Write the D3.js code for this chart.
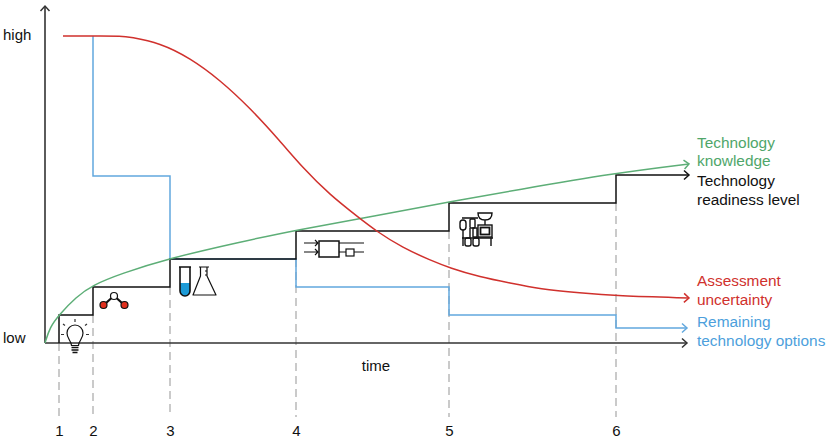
<!DOCTYPE html>
<html>
<head>
<meta charset="utf-8">
<script src="https://cdn.jsdelivr.net/npm/d3@7"></script>
<style>
  html, body { margin: 0; padding: 0; background: #fff; }
  svg { display: block; }
  text { font-family: "Liberation Sans", Arial, sans-serif; font-size: 15px; }
  text.series { font-size: 15.4px; }
</style>
</head>
<body>
<div id="chart"></div>
<script>
// Dimensions of the picture.
const WIDTH = 829;
const HEIGHT = 441;

// Values are read from the picture, time and level both in picture pixels
// measured from the origin of the axes.
const stages = [14, 48, 125, 251, 404, 571];
const stageLabels = ["1", "2", "3", "4", "5", "6"];
const axisEndTime = 642;
const axisEndLevel = 337;

const readinessTime = [14, 14, 48, 48, 125, 125, 251, 251, 404, 404, 571, 571, 644];
const readinessLevel = [0, 28, 28, 56, 56, 84, 84, 112, 112, 140, 140, 168, 168];

const optionsTime = [48, 48, 125, 125, 251, 251, 404, 404, 571, 571, 642];
const optionsLevel = [307, 167, 167, 84, 84, 56, 56, 28, 28, 15, 15];

const knowledgeTime = [0, 5, 14, 31, 48, 75, 125, 195, 251, 330, 404, 471, 571, 644];
const knowledgeLevel = [0, 16, 28, 46, 58, 69, 85, 101, 113, 127, 141, 153, 170, 179];

const uncertaintyTime = [18, 60, 75, 85, 115, 145, 175, 205, 235, 258, 285, 313, 331, 358, 385, 405, 435, 465, 495, 535, 572, 644];
const uncertaintyLevel = [307, 307, 307, 306, 300, 285, 263, 235, 202, 175, 148, 126, 112, 95, 83, 75, 66, 60, 54, 50, 47, 45];

const seriesLabels = [
  { lines: ["Technology", "knowledge"], color: "#4fa66a", y: [148, 166] },
  { lines: ["Technology", "readiness level"], color: "#111111", y: [186, 205] },
  { lines: ["Assessment", "uncertainty"], color: "#d0312d", y: [286, 305] },
  { lines: ["Remaining", "technology options"], color: "#4d9fdc", y: [327, 346] },
];

const x = d3.scaleLinear().domain([0, 784]).range([45, 829]);
const y = d3.scaleLinear().domain([0, 343]).range([343, 0]);

const svg = d3
  .select("#chart")
  .append("svg")
  .attr("width", WIDTH)
  .attr("height", HEIGHT);

// One open arrow head per colour.
function addMarker(id, color) {
  svg
    .append("defs")
    .append("marker")
    .attr("id", id)
    .attr("viewBox", "-6 -6 8 12")
    .attr("markerUnits", "userSpaceOnUse")
    .attr("markerWidth", 8)
    .attr("markerHeight", 12)
    .attr("orient", "auto")
    .append("path")
    .attr("d", "M-5,-4.5L0,0L-5,4.5")
    .attr("fill", "none")
    .attr("stroke", color)
    .attr("stroke-width", 1.5);
}
addMarker("arrow-axis", "#333333");
addMarker("arrow-black", "#111111");
addMarker("arrow-green", "#5dae77");
addMarker("arrow-red", "#d0312d");
addMarker("arrow-blue", "#62a8de");

// Dashed stage guides, from the top of the previous step down to the labels.
svg
  .append("g")
  .selectAll("line")
  .data(stages)
  .enter()
  .append("line")
  .attr("x1", (d) => x(d))
  .attr("x2", (d) => x(d))
  .attr("y1", (d, i) => y(i === 0 ? 0 : readinessLevel[2 * i - 1]))
  .attr("y2", 417)
  .attr("stroke", "#bdbdbd")
  .attr("stroke-width", 1.6)
  .attr("stroke-dasharray", "8 5");

// Stage numbers through a bottom axis with no line or ticks.
const timeAxis = svg
  .append("g")
  .attr("transform", "translate(0,418)")
  .call(
    d3
      .axisBottom(x)
      .tickValues(stages)
      .tickFormat((d, i) => stageLabels[i])
      .tickSize(0)
      .tickPadding(7)
  );
timeAxis.select(".domain").remove();
timeAxis.selectAll("text").attr("font-size", null).attr("fill", "#111");

// The two axes.
const axisLine = d3
  .line()
  .x((d) => x(d[0]))
  .y((d) => y(d[1]));

svg
  .append("path")
  .attr("d", axisLine([[0, 0], [axisEndTime, 0]]))
  .attr("fill", "none")
  .attr("stroke", "#333333")
  .attr("stroke-width", 1.6)
  .attr("marker-end", "url(#arrow-axis)");

svg
  .append("path")
  .attr("d", axisLine([[0, 0], [0, axisEndLevel]]))
  .attr("fill", "none")
  .attr("stroke", "#333333")
  .attr("stroke-width", 1.6)
  .attr("marker-end", "url(#arrow-axis)");

// Turn two parallel arrays into one drawn series.
function drawSeries(times, levels, curve, color, width, marker) {
  const line = d3
    .line()
    .curve(curve)
    .x((d) => x(d[0]))
    .y((d) => y(d[1]));
  svg
    .append("path")
    .attr("d", line(d3.zip(times, levels)))
    .attr("fill", "none")
    .attr("stroke", color)
    .attr("stroke-width", width)
    .attr("marker-end", "url(#" + marker + ")");
}

drawSeries(optionsTime, optionsLevel, d3.curveLinear, "#62a8de", 1.5, "arrow-blue");
drawSeries(readinessTime, readinessLevel, d3.curveLinear, "#111111", 1.5, "arrow-black");
drawSeries(knowledgeTime, knowledgeLevel, d3.curveBasis, "#5dae77", 1.5, "arrow-green");
drawSeries(uncertaintyTime, uncertaintyLevel, d3.curveBasis, "#d0312d", 1.5, "arrow-red");

// Axis words.
svg.append("text").attr("x", 3).attr("y", 40).attr("fill", "#111").text("high");
svg.append("text").attr("x", 3).attr("y", 343).attr("fill", "#111").text("low");
svg.append("text").attr("x", 376).attr("y", 371).attr("text-anchor", "middle").attr("fill", "#111").text("time");

// Series names on the right.
seriesLabels.forEach((label) => {
  label.lines.forEach((line, i) => {
    svg
      .append("text")
      .attr("class", "series")
      .attr("x", 697)
      .attr("y", label.y[i])
      .attr("fill", label.color)
      .text(line);
  });
});

// Small pictograms, one per stage, each drawn around its own origin.
function icon(cx, cy) {
  return svg
    .append("g")
    .attr("transform", "translate(" + cx + "," + cy + ")")
    .attr("fill", "none")
    .attr("stroke", "#111")
    .attr("stroke-width", 1.2);
}

// Light bulb
const bulb = icon(75, 335);
bulb.append("path").attr("d", "M-3.5,10.5C-4,5 -8,4 -8,-2A8,8 0 0 1 8,-2C8,4 4,5 3.5,10.5Z");
bulb.append("path").attr("d", "M-3.5,12.5H3.5M-3.5,15H3.5M-2.5,17.5H2.5").attr("stroke-width", 1.6);
bulb.append("path").attr("d", "M0,-16V-13M-12,-11L-10,-9.5M12,-11L10,-9.5M-14,-0.5H-11M14,-0.5H11").attr("stroke", "#333");

// Molecule
const molecule = icon(114, 305);
molecule.append("path").attr("d", "M-2.5,-7L-8,-2M2.5,-7L8,-2").attr("stroke-width", 2.2);
molecule.append("circle").attr("r", 3.5).attr("cy", -9).attr("fill", "#fff");
molecule.append("circle").attr("r", 3.5).attr("cx", -10.5).attr("fill", "#e0301e");
molecule.append("circle").attr("r", 3.5).attr("cx", 10.5).attr("fill", "#e0301e");

// Test tube and flask
const glass = icon(185, 266);
glass.append("path").attr("d", "M-5,17H5V25A5,5 0 0 1 -5,25Z").attr("fill", "#1c9ad6").attr("stroke", "none");
glass.append("path").attr("d", "M-6,1H6M-5,1V25A5,5 0 0 0 5,25V1").attr("stroke-width", 1.6);
glass.append("path").attr("d", "M14,1H24M15.5,1V10L8,29H31L22,10V1M20,5H22M20,9H22").attr("stroke-linejoin", "round");

// Block diagram
const blocks = icon(316, 242);
blocks.append("path").attr("d", "M-12,1H2M-1,-2L2,1L-1,4M-12,10H2M-1,7L2,10L-1,13");
blocks.append("rect").attr("x", 3).attr("y", -1).attr("width", 20).attr("height", 16).attr("stroke-width", 1.5);
blocks.append("path").attr("d", "M23,1H48M23,10H30M38,10H48");
blocks.append("rect").attr("x", 30).attr("y", 7).attr("width", 8).attr("height", 7);

// Process plant
const plant = icon(460, 212);
plant.attr("stroke-width", 1.4);
plant.append("path").attr("d", "M18,1H32Q32,8 25,8Q18,8 18,1ZM25,8V13M2,6H18");
plant.append("rect").attr("x", 18).attr("y", 13).attr("width", 14).attr("height", 12);
plant.append("rect").attr("x", 20.5).attr("y", 15.5).attr("width", 9).attr("height", 7).attr("stroke-width", 1.8);
plant.append("rect").attr("x", 0).attr("y", 8).attr("width", 6).attr("height", 10).attr("rx", 3);
plant.append("rect").attr("x", 10).attr("y", 7).attr("width", 5).attr("height", 9).attr("rx", 1);
plant.append("rect").attr("x", 13).attr("y", 16).attr("width", 4).attr("height", 9);
plant.append("path").attr("d", "M2,26H33M3,26V34M31,26V34M3,18V26M10,16V26");
plant.append("rect").attr("x", 5).attr("y", 26).attr("width", 6).attr("height", 8).attr("rx", 2);
plant.append("rect").attr("x", 13).attr("y", 26).attr("width", 6).attr("height", 8).attr("rx", 2);
</script>
</body>
</html>
